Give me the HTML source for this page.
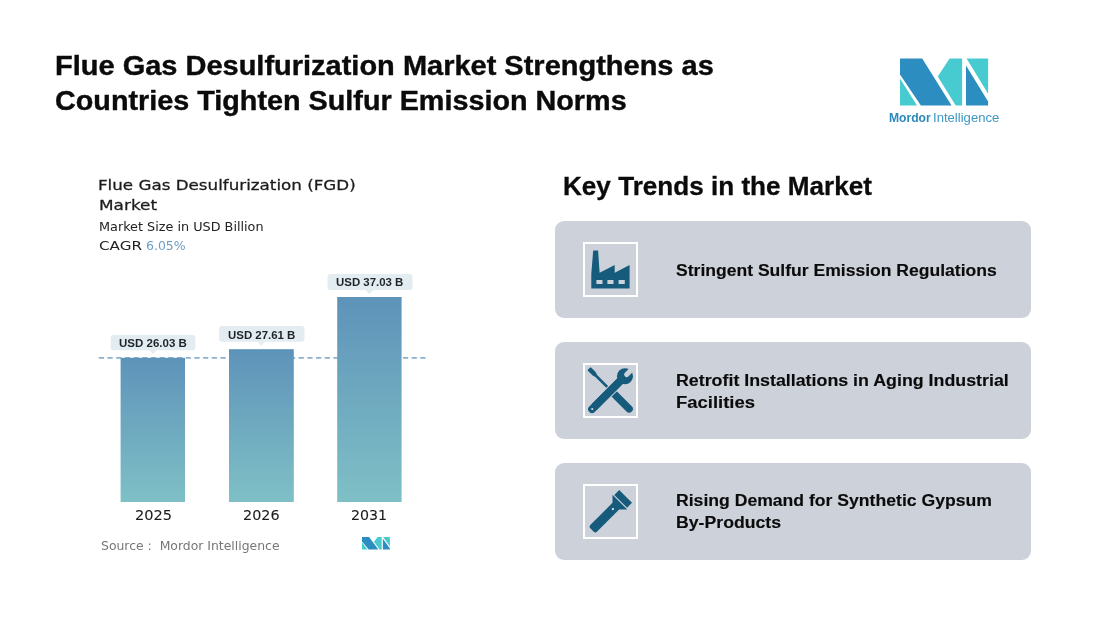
<!DOCTYPE html>
<html lang="en">
<head>
<meta charset="utf-8">
<title>Flue Gas Desulfurization Market</title>
<style>
html,body{margin:0;padding:0;background:#fff;}
body{width:1096px;height:621px;position:relative;overflow:hidden;font-family:"Liberation Sans",sans-serif;color:#0d0d0d;}
.t{position:absolute;white-space:nowrap;transform-origin:0 0;line-height:1;}
.h1{left:56px;font-size:27.5px;font-weight:bold;color:#0b0b0b;-webkit-text-stroke:0.4px #0b0b0b;}
.h2{left:564px;top:173px;font-size:25.4px;font-weight:bold;color:#0b0b0b;-webkit-text-stroke:0.3px #0b0b0b;}
.panel{position:absolute;left:555px;width:476px;height:97px;background:#cdd2da;border-radius:9px;}
.ibox{position:absolute;left:28px;top:21px;width:51px;height:51px;border:2px solid #fff;}
.ptxt{left:677px;font-size:17.4px;font-weight:bold;color:#0b0b0b;-webkit-text-stroke:0.15px #0b0b0b;}
.ct{color:#222;font-family:"DejaVu Sans","Liberation Sans",sans-serif;}
.cm{-webkit-text-stroke:0.27px #1c1c1c;color:#1c1c1c;}
.ym{-webkit-text-stroke:0.1px #1c1c1c;color:#1c1c1c;}
.lb{font-size:11px;font-weight:bold;color:#1e2428;}
svg{z-index:0;}
.t{z-index:2;}
svg{position:absolute;left:0;top:0;}
</style>
</head>
<body>
<div class="t h1" id="h1a" style="left:55.2px;top:51.5px;transform:scaleX(1.054);">Flue Gas Desulfurization Market Strengthens as</div>
<div class="t h1" id="h1b" style="left:54.7px;top:86.5px;transform:scaleX(1.046);">Countries Tighten Sulfur Emission Norms</div>

<div class="t h2" id="h2" style="left:562.6px;top:174.3px;transform:scaleX(1.028);">Key Trends in the Market</div>

<div class="panel" style="top:221px;"><div class="ibox"></div></div>
<div class="panel" style="top:342px;"><div class="ibox"></div></div>
<div class="panel" style="top:463px;"><div class="ibox"></div></div>

<div class="t ptxt" id="p1" style="left:676.3px;top:262.3px;transform:scaleX(1.009);">Stringent Sulfur Emission Regulations</div>
<div class="t ptxt" id="p2a" style="left:676.0px;top:372.3px;transform:scaleX(1.024);">Retrofit Installations in Aging Industrial</div>
<div class="t ptxt" id="p2b" style="left:676.0px;top:394.3px;transform:scaleX(1.062);">Facilities</div>
<div class="t ptxt" id="p3a" style="left:676.0px;top:492.3px;transform:scaleX(1.012);">Rising Demand for Synthetic Gypsum</div>
<div class="t ptxt" id="p3b" style="left:676.0px;top:514.3px;transform:scaleX(1.016);">By-Products</div>

<!-- chart text -->
<div class="t ct cm" id="c1" style="left:98.4px;top:178.0px;transform:scaleX(1.162);font-size:14.4px;">Flue Gas Desulfurization (FGD)</div>
<div class="t ct cm" id="c2" style="left:98.5px;top:198.4px;transform:scaleX(1.174);font-size:14.4px;">Market</div>
<div class="t ct" id="c3" style="left:98.8px;top:222.0px;transform:scaleX(1.124);font-size:11.4px;">Market Size in USD Billion</div>
<div class="t ct" id="c4a" style="left:98.8px;top:240.6px;transform:scaleX(1.332);font-size:11.4px;">CAGR</div>
<div class="t ct" id="c4b" style="left:146.1px;top:240.6px;transform:scaleX(1.096);font-size:11.4px;color:#6a9cc4;">6.05%</div>

<div class="t ct ym" id="y1" style="left:134.6px;top:507.8px;transform:scaleX(1.005);font-size:14.5px;">2025</div>
<div class="t ct ym" id="y2" style="left:242.9px;top:507.8px;transform:scaleX(0.990);font-size:14.5px;">2026</div>
<div class="t ct ym" id="y3" style="left:350.9px;top:507.8px;transform:scaleX(0.979);font-size:14.5px;">2031</div>
<div class="t ct" id="src" style="left:100.7px;top:539.7px;transform:scaleX(1.009);font-size:12.3px;color:#777;">Source :&nbsp; Mordor Intelligence</div>

<svg width="1096" height="621" viewBox="0 0 1096 621">
  <defs>
    <linearGradient id="bg" x1="0" y1="0" x2="0" y2="1">
      <stop offset="0" stop-color="#5e93b9"/>
      <stop offset="1" stop-color="#7fc0c6"/>
    </linearGradient>
  </defs>
  <!-- bars -->
  <line x1="98.8" y1="357.9" x2="427" y2="357.9" stroke="#8db0cd" stroke-width="1.6" stroke-dasharray="5.2 3.49"/>
  <rect x="120.6" y="357.8" width="64.4" height="144.2" fill="url(#bg)"/>
  <rect x="229" y="349.2" width="64.8" height="152.8" fill="url(#bg)"/>
  <rect x="337.2" y="297" width="64.4" height="205" fill="url(#bg)"/>
  <!-- labels -->
  <g fill="#e3edf1">
    <rect x="110.7" y="335" width="84.7" height="15.2" rx="3"/>
    <path d="M149 350 L153 354 L157 350Z"/>
    <rect x="219.1" y="326" width="85.4" height="15.7" rx="3"/>
    <path d="M257.4 341.5 L261.4 345.5 L265.4 341.5Z"/>
    <rect x="327.5" y="274" width="85" height="16" rx="3"/>
    <path d="M365.4 290 L369.4 294 L373.4 290Z"/>
  </g>
  <!-- small logo -->
  <g transform="translate(362,536.9) scale(0.3167,0.269)">
    <g transform="translate(-900,-58.4)">
      <polygon points="900,58.4 922.2,58.4 951.6,105.6 920.9,105.6 900,74.5" fill="#2c8dc0"/>
      <polygon points="900,78.6 917,105.6 900,105.6" fill="#47cbd0"/>
      <polygon points="949.6,58.4 962.1,58.4 962.1,105.6 955.7,105.6 937.8,76.5" fill="#47cbd0"/>
      <polygon points="966.6,58.4 988.1,58.4 988.1,93.8" fill="#47cbd0"/>
      <polygon points="966,65.5 988.1,101.5 988.1,105.6 966,105.6" fill="#2c8dc0"/>
    </g>
  </g>
  <!-- big logo -->
  <polygon points="900,58.4 922.2,58.4 951.6,105.6 920.9,105.6 900,74.5" fill="#2c8dc0"/>
  <polygon points="900,78.6 917,105.6 900,105.6" fill="#47cbd0"/>
  <polygon points="949.6,58.4 962.1,58.4 962.1,105.6 955.7,105.6 937.8,76.5" fill="#47cbd0"/>
  <polygon points="966.6,58.4 988.1,58.4 988.1,93.8" fill="#47cbd0"/>
  <polygon points="966,65.5 988.1,101.5 988.1,105.6 966,105.6" fill="#2c8dc0"/>

  <!-- factory icon -->
  <g fill="#165a7c">
    <path d="M593.2 250.4 L598.1 250.4 L599.6 272.8 L614.7 265 L614.7 272.8 L629.6 265 L629.6 288.5 L591.3 288.5 L591.3 273.8 Z M596.4 280 h6.1 v4.1 h-6.1Z M607.4 280 h6.1 v4.1 h-6.1Z M618.6 280 h6.2 v4.1 h-6.2Z" fill-rule="evenodd"/>
  </g>

  <!-- tools icon (wrench + screwdriver) -->
  <g transform="translate(610.4,390.1) rotate(45)" fill="#165a7c">
    <path d="M-30.4 -1.7 L-29.6 -2.3 L-23.2 -2.3 L-20 -1.3 L0 -1.3 L0 1.3 L-20 1.3 L-23.2 2.3 L-29.6 2.3 L-30.4 1.7 Z"/>
    <rect x="-2" y="-3.75" width="32.2" height="7.5" rx="3.75"/>
  </g>
  <g transform="translate(608.6,392.6) rotate(-45)">
    <g fill="#165a7c" stroke="#cdd2da" stroke-width="2.4" paint-order="stroke">
      <rect x="-27.3" y="-3.85" width="50" height="7.7" rx="3.85"/>
    </g>
    <circle cx="23.15" cy="0" r="8" fill="#165a7c"/>
    <rect x="-20" y="-3.85" width="40" height="7.7" fill="#165a7c"/>
    <path d="M32 -2.6 H25.6 A2.6 2.6 0 0 0 25.6 2.6 H32 Z" fill="#cdd2da"/>
    <circle cx="-23.15" cy="0" r="1" fill="#dfe3e8"/>
  </g>

  <!-- flashlight icon -->
  <g transform="translate(592,530) rotate(-45)">
    <g fill="#165a7c">
      <path d="M2.6 -4.7 H33.7 L39.4 -10.4 V10.4 L33.7 4.7 H2.6 Q0 4.7 0 2.1 V-2.1 Q0 -4.7 2.6 -4.7 Z"/>
      <rect x="40.6" y="-9.05" width="6.9" height="18.1"/>
    </g>
    <circle cx="29.6" cy="0" r="1.1" fill="#e4e8ec"/>
  </g>
</svg>

<div class="t lb" id="l1" style="left:119.3px;top:338.1px;transform:scaleX(1.047);">USD 26.03 B</div>
<div class="t lb" id="l2" style="left:227.9px;top:329.5px;transform:scaleX(1.039);">USD 27.61 B</div>
<div class="t lb" id="l3" style="left:336.0px;top:276.9px;transform:scaleX(1.039);">USD 37.03 B</div>
<div class="t" id="lga" style="left:889.0px;top:111.0px;transform:scaleX(0.905);font-size:13.4px;color:#2b89bd;font-weight:bold;">Mordor</div>
<div class="t" id="lgb" style="left:933.0px;top:111.0px;transform:scaleX(0.979);font-size:13.4px;color:#3f97c6;">Intelligence</div>
</body>
</html>
